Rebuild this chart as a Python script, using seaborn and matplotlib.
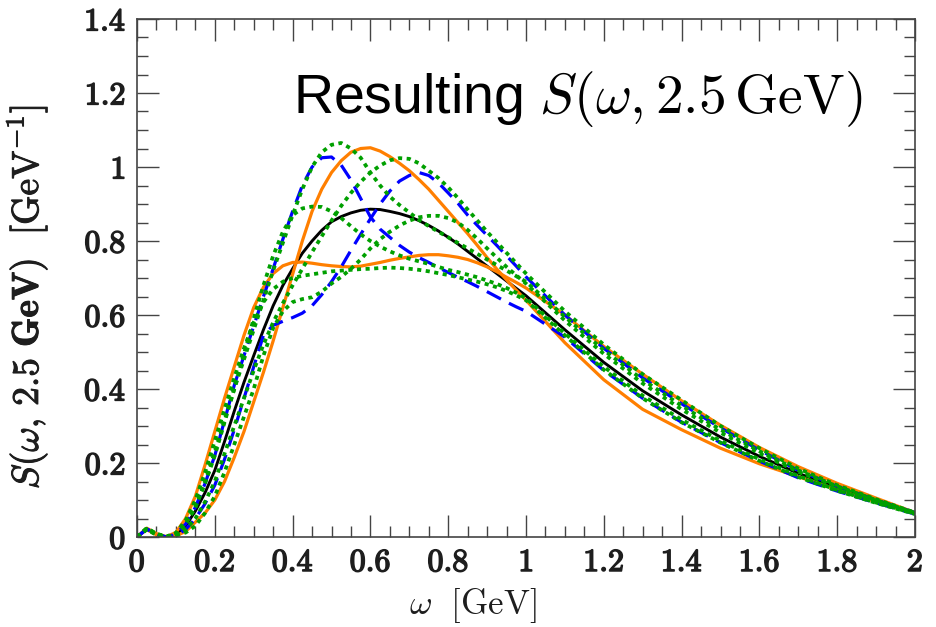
import numpy as np
import pandas as pd
import matplotlib
matplotlib.use("Agg")
import matplotlib.pyplot as plt
import matplotlib.patheffects as pe
import seaborn as sns
from matplotlib.ticker import MultipleLocator, FixedLocator, FixedFormatter

# ---------------- data ----------------
omega = [0.0, 0.025, 0.05, 0.075,
         0.100, 0.125, 0.150, 0.175, 0.200,
         0.225, 0.250, 0.275, 0.300, 0.325,
         0.350, 0.375, 0.400, 0.425, 0.450,
         0.475, 0.500, 0.525, 0.550, 0.575,
         0.600, 0.625, 0.650, 0.675, 0.700,
         0.725, 0.750, 0.775, 0.800, 0.825,
         0.850, 0.875, 0.900, 0.925, 0.950,
         0.975, 1.000,
         1.1, 1.2, 1.3, 1.4, 1.5, 1.6, 1.7, 1.8, 1.9, 2.0]

s_central = [0, 0.022, 0.007, 0.0,
             0.006, 0.03, 0.07, 0.12, 0.18,
             0.258, 0.34, 0.418, 0.49, 0.56,
             0.625, 0.68, 0.725, 0.767, 0.80,
             0.829, 0.852, 0.866, 0.876, 0.883,
             0.886, 0.885, 0.88, 0.874, 0.866,
             0.855, 0.842, 0.827, 0.81, 0.792,
             0.772, 0.752, 0.732, 0.712, 0.692,
             0.672, 0.652,
             0.56, 0.472, 0.395, 0.33, 0.27, 0.218, 0.172, 0.133, 0.097, 0.064]

s_orange_a = [0, 0.02, 0.006, 0.0,
              0.003, 0.015, 0.04, 0.065, 0.10,
              0.15, 0.215, 0.285, 0.365, 0.445,
              0.53, 0.62, 0.71, 0.80, 0.88,
              0.94, 0.985, 1.017, 1.04, 1.05,
              1.052, 1.043, 1.028, 1.01, 0.99,
              0.966, 0.94, 0.91, 0.88, 0.85,
              0.82, 0.788, 0.755, 0.724, 0.695,
              0.667, 0.64,
              0.525, 0.425, 0.345, 0.29, 0.24, 0.198, 0.163, 0.128, 0.095, 0.063]

s_orange_b = [0, 0.024, 0.009, 0.001,
              0.012, 0.05, 0.11, 0.195, 0.285,
              0.375, 0.46, 0.545, 0.62, 0.675,
              0.712, 0.733, 0.742, 0.743, 0.74,
              0.736, 0.733, 0.731, 0.73, 0.732,
              0.737, 0.742, 0.748, 0.753, 0.757,
              0.761, 0.763, 0.763, 0.76, 0.756,
              0.75, 0.741, 0.73, 0.717, 0.702,
              0.688, 0.673,
              0.60, 0.515, 0.44, 0.368, 0.302, 0.242, 0.19, 0.145, 0.105, 0.066]

s_blue_1 = [0, 0.022, 0.008, 0.0,
            0.008, 0.035, 0.08, 0.145, 0.22,
            0.315, 0.41, 0.49, 0.57, 0.65,
            0.725, 0.805, 0.88, 0.95, 1.0,
            1.025, 1.027, 1.005, 0.965, 0.915,
            0.865, 0.832, 0.81, 0.788, 0.77,
            0.755, 0.742, 0.728, 0.715, 0.702,
            0.69, 0.677, 0.663, 0.649, 0.635,
            0.622, 0.61,
            0.54, 0.45, 0.375, 0.31, 0.255, 0.205, 0.16, 0.124, 0.092, 0.062]

s_blue_2 = [0, 0.021, 0.007, 0.0,
            0.004, 0.02, 0.05, 0.09, 0.14,
            0.21, 0.29, 0.375, 0.46, 0.545,
            0.572, 0.583, 0.593, 0.605, 0.625,
            0.655, 0.69, 0.73, 0.775, 0.818,
            0.86, 0.90, 0.935, 0.962, 0.977,
            0.985, 0.977, 0.957, 0.93, 0.902,
            0.87, 0.842, 0.815, 0.788, 0.76,
            0.732, 0.703,
            0.60, 0.51, 0.43, 0.36, 0.295, 0.235, 0.18, 0.137, 0.10, 0.066]

s_green_1 = [0, 0.022, 0.008, 0.0,
             0.007, 0.035, 0.08, 0.15, 0.23,
             0.315, 0.40, 0.48, 0.56, 0.64,
             0.72, 0.795, 0.87, 0.94, 1.0,
             1.04, 1.06, 1.065, 1.05, 1.025,
             0.985, 0.95, 0.92, 0.897, 0.877,
             0.857, 0.84, 0.825, 0.81, 0.795,
             0.78, 0.765, 0.75, 0.735, 0.72,
             0.705, 0.69,
             0.595, 0.505, 0.425, 0.355, 0.29, 0.232, 0.18, 0.137, 0.10, 0.065]

s_green_2 = [0, 0.021, 0.007, 0.0,
             0.005, 0.02, 0.05, 0.095, 0.15,
             0.225, 0.30, 0.375, 0.45, 0.52,
             0.58, 0.632, 0.68, 0.725, 0.77,
             0.813, 0.855, 0.895, 0.93, 0.96,
             0.985, 1.004, 1.018, 1.024, 1.022,
             1.01, 0.99, 0.97, 0.945, 0.916,
             0.885, 0.855, 0.825, 0.797, 0.768,
             0.74, 0.712,
             0.61, 0.52, 0.44, 0.37, 0.30, 0.24, 0.185, 0.14, 0.102, 0.066]

s_green_3 = [0, 0.023, 0.008, 0.0,
             0.008, 0.035, 0.08, 0.145, 0.22,
             0.31, 0.40, 0.495, 0.59, 0.68,
             0.76, 0.825, 0.87, 0.888, 0.893,
             0.892, 0.88, 0.862, 0.84, 0.818,
             0.80, 0.785, 0.772, 0.761, 0.752,
             0.745, 0.738, 0.73, 0.722, 0.716,
             0.709, 0.702, 0.693, 0.684, 0.673,
             0.66, 0.645,
             0.55, 0.46, 0.382, 0.317, 0.26, 0.21, 0.165, 0.127, 0.093, 0.063]

s_green_4 = [0, 0.02, 0.006, 0.0,
             0.004, 0.012, 0.03, 0.065, 0.11,
             0.175, 0.25, 0.325, 0.40, 0.49,
             0.565, 0.61, 0.635, 0.643, 0.648,
             0.663, 0.685, 0.703, 0.725, 0.75,
             0.78, 0.805, 0.825, 0.842, 0.855,
             0.864, 0.868, 0.868, 0.862, 0.85,
             0.83, 0.806, 0.78, 0.755, 0.73,
             0.707, 0.685,
             0.585, 0.495, 0.415, 0.345, 0.282, 0.226, 0.176, 0.134, 0.098, 0.064]

s_green_5 = [0, 0.024, 0.009, 0.001,
             0.011, 0.045, 0.10, 0.175, 0.26,
             0.345, 0.43, 0.51, 0.58, 0.635,
             0.67, 0.69, 0.70, 0.706, 0.71,
             0.714, 0.718, 0.72, 0.722, 0.724,
             0.725, 0.727, 0.728, 0.727, 0.725,
             0.722, 0.718, 0.713, 0.708, 0.702,
             0.696, 0.69, 0.683, 0.675, 0.665,
             0.653, 0.64,
             0.545, 0.452, 0.375, 0.31, 0.255, 0.206, 0.162, 0.125, 0.092, 0.062]

xtick_values = [0, 0.2, 0.4, 0.6, 0.8, 1.0, 1.2, 1.4, 1.6, 1.8, 2.0]
xtick_labels = ["0", "0.2", "0.4", "0.6", "0.8", "1", "1.2", "1.4", "1.6", "1.8", "2"]
ytick_values = [0, 0.2, 0.4, 0.6, 0.8, 1.0, 1.2, 1.4]
ytick_labels = ["0", "0.2", "0.4", "0.6", "0.8", "1", "1.2", "1.4"]

title_text = r"Resulting $S(\omega,2.5\,\mathrm{GeV})$"
xlabel_text = r"$\omega\ \ [\mathrm{GeV}]$"
ylabel_text = r"$S(\omega,\,\mathbf{2.5\ GeV})\ \ [\mathrm{GeV}^{-1}]$"

# ---------------- styling ----------------
sns.set_style("white")
plt.rcParams["font.family"] = ["Liberation Sans", "DejaVu Sans"]
plt.rcParams["mathtext.fontset"] = "cm"

ORANGE = "#ff7f00"
BLUE = "#0000ff"
GREEN = "#00a000"
TXT = "#1e1e1e"

fig = plt.figure(figsize=(9.36, 6.27), dpi=100)
ax = fig.add_axes([137 / 936, 1 - 537 / 627, (915 - 137) / 936, (537 - 19) / 627])

DASH = (0, (5.0, 2.8))
DOT = (0, (1.1, 1.2))
series = [
    (s_central, "k", "-", 2.1),
    (s_orange_a, ORANGE, "-", 2.3),
    (s_orange_b, ORANGE, "-", 2.3),
    (s_blue_1, BLUE, DASH, 2.3),
    (s_blue_2, BLUE, DASH, 2.3),
    (s_green_1, GREEN, DOT, 2.7),
    (s_green_2, GREEN, DOT, 2.7),
    (s_green_3, GREEN, DOT, 2.7),
    (s_green_4, GREEN, DOT, 2.7),
    (s_green_5, GREEN, DOT, 2.7),
]
for vals, col, ls, lw in series:
    df = pd.DataFrame({"omega": omega, "S": vals})
    sns.lineplot(data=df, x="omega", y="S", ax=ax, color=col, linestyle=ls,
                 linewidth=lw, errorbar=None, sort=False)

ax.set_xlim(0, 2)
ax.set_ylim(0, 1.4)

ax.xaxis.set_major_locator(FixedLocator(xtick_values))
ax.xaxis.set_major_formatter(FixedFormatter([r"$\mathbf{%s}$" % t for t in xtick_labels]))
ax.yaxis.set_major_locator(FixedLocator(ytick_values))
ax.yaxis.set_major_formatter(FixedFormatter([r"$\mathbf{%s}$" % t for t in ytick_labels]))
ax.xaxis.set_minor_locator(MultipleLocator(0.05))
ax.yaxis.set_minor_locator(MultipleLocator(0.05))

tick_col = "#444444"
ax.tick_params(which="both", direction="in", top=True, right=True,
               bottom=True, left=True, color=tick_col, width=1.0)
ax.tick_params(which="major", length=16, labelsize=23, pad=8, labelcolor=TXT)
ax.tick_params(which="minor", length=8)
for sp in ax.spines.values():
    sp.set_color(tick_col)
    sp.set_linewidth(1.2)

bold_fx = [pe.withStroke(linewidth=1.1, foreground=TXT)]
for lab in ax.get_xticklabels() + ax.get_yticklabels():
    lab.set_path_effects(bold_fx)

ax.set_xlabel(xlabel_text, fontsize=25, color=TXT, labelpad=4)
ax.xaxis.set_label_coords(0.432, -0.095)
ax.set_ylabel(ylabel_text, fontsize=27, color=TXT, labelpad=10)
ax.yaxis.set_label_coords(-0.112, 0.463)
ax.yaxis.label.set_path_effects([pe.withStroke(linewidth=0.7, foreground=TXT)])

ax.text(0.932, 0.8185, title_text, transform=ax.transAxes, ha="right",
        va="baseline", fontsize=40, color="black")

fig.savefig("out.png", dpi=100)
